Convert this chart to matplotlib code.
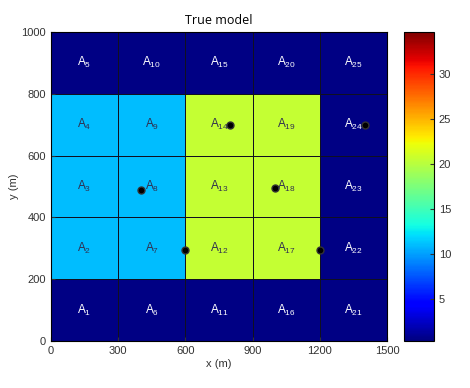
import matplotlib
matplotlib.use("Agg")
import matplotlib.pyplot as plt
import numpy as np

# cell edges (m)
x_edges = [0, 300, 600, 900, 1200, 1500]
y_edges = [0, 200, 400, 600, 800, 1000]

# true model values, rows = y (bottom to top), cols = x (left to right)
model = np.array([
    [0.5, 0.5, 0.5, 0.5, 0.5],
    [11.0, 11.0, 20.5, 20.5, 0.5],
    [11.0, 11.0, 20.5, 20.5, 0.5],
    [11.0, 11.0, 20.5, 20.5, 0.5],
    [0.5, 0.5, 0.5, 0.5, 0.5],
])

# observation points
pt_x = [400, 800, 1000, 600, 1200, 1400]
pt_y = [490, 700, 495, 295, 295, 700]

vmin, vmax = 0.3, 34.7
cbar_ticks = [5, 10, 15, 20, 25, 30]
x_ticks = [0, 300, 600, 900, 1200, 1500]
y_ticks = [0, 200, 400, 600, 800, 1000]

plt.rcParams["font.family"] = ["Liberation Sans", "DejaVu Sans"]
plt.rcParams["font.size"] = 8

fig = plt.figure(figsize=(4.70, 3.88), dpi=100)
ax = fig.add_axes([0.1085, 0.1211, 0.7149, 0.7964])
cax = fig.add_axes([0.8596, 0.1211, 0.0638, 0.7964])

mesh = ax.pcolormesh(x_edges, y_edges, model, cmap="jet", vmin=vmin, vmax=vmax,
                     edgecolors="#101020", linewidth=0.5)

# cell labels
for ci in range(5):
    for ri in range(5):
        xc = (x_edges[ci] + x_edges[ci + 1]) / 2
        yc = (y_edges[ri] + y_edges[ri + 1]) / 2
        n = 5 * ci + ri + 1
        col = "white" if model[ri, ci] < 5 else "#303050"
        ax.text(xc, yc, r"$\mathregular{A_{%d}}$" % n, ha="center", va="center",
                color=col, fontsize=8.5)

ax.plot(pt_x, pt_y, "o", color="black", markeredgecolor="#333333", markersize=5)

ax.set_xlim(0, 1500)
ax.set_ylim(0, 1000)
ax.set_xticks(x_ticks)
ax.set_yticks(y_ticks)
ax.tick_params(direction="in", length=3, labelsize=8, colors="#333333")
ax.set_xlabel("x (m)", fontsize=8, color="#333333", labelpad=2)
ax.set_ylabel("y (m)", fontsize=8, color="#333333", labelpad=2)
ax.set_title("True model", fontsize=9, family="Open Sans", pad=6)

cb = fig.colorbar(mesh, cax=cax, ticks=cbar_ticks)
cb.ax.tick_params(direction="in", length=3, labelsize=8, colors="#333333")
cb.outline.set_linewidth(0.8)

fig.savefig("out.png", dpi=100)
